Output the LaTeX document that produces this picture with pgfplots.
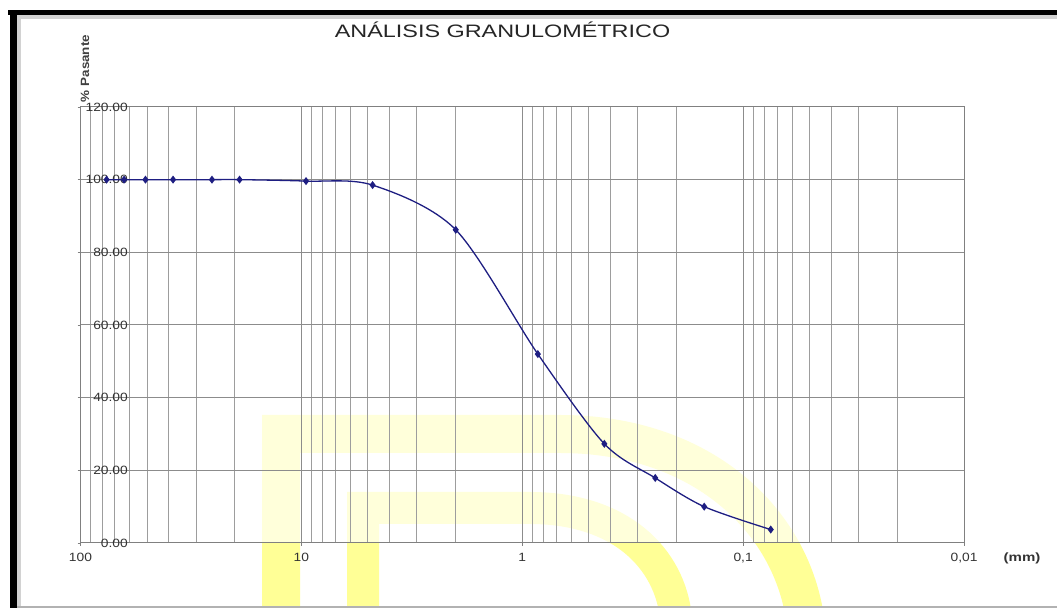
\documentclass[border=0pt]{standalone}
\usepackage{fontspec}
\setmainfont{Liberation Sans}
\usepackage{graphicx}
\usepackage{pgfplots}
\pgfplotsset{compat=1.18}
\definecolor{navy}{RGB}{30,30,130}
\definecolor{wm}{RGB}{255,255,150}
\definecolor{gridc}{RGB}{140,140,140}
\newcommand\st[1]{\scalebox{1.15}[1]{#1}}
\begin{document}
\begin{tikzpicture}[x=1bp,y=1bp]
\path[use as bounding box] (0,0) rectangle (1057,608);
\fill[white] (0,0) rectangle (1057,608);
% watermark (decoration)
\draw[wm, line width=38bp] (281,-10) -- (281,174) -- (560,174) .. controls (700,174) and (790,90) .. (805,-10);
\draw[wm, line width=32bp] (363,-10) -- (363,100) -- (530,100) .. controls (620,100) and (670,50) .. (676,-10);
\begin{axis}[
  at={(80.5bp,65bp)}, anchor=south west,
  scale only axis, width=883.5bp, height=436bp,
  xmode=log, x dir=reverse,
  xmin=0.01, xmax=100, ymin=0, ymax=120,
  xtick={100,10,1,0.1,0.01},
  xticklabels={\st{100},\st{10},\st{1},\st{0,1},\st{0,01}},
  minor xtick={20,30,40,50,60,70,80,90,2,3,4,5,6,7,8,9,0.2,0.3,0.4,0.5,0.6,0.7,0.8,0.9,0.02,0.03,0.04,0.05,0.06,0.07,0.08,0.09},
  ytick={0,20,40,60,80,100,120},
  yticklabels={\st{0.00},\st{20.00},\st{40.00},\st{60.00},\st{80.00},\st{100.00},\st{120.00}},
  xmajorgrids=true, xminorgrids=true, ymajorgrids=true,
  major grid style={gridc, line width=1bp},
  minor grid style={gridc!85, line width=0.8bp},
  axis line style={gray, line width=1bp},
  tick align=outside, xtick pos=left, ytick pos=left,
  major tick length=3bp, minor tick length=0pt,
  tick style={gray, line width=0.8bp},
  ticklabel style={font=\fontsize{12bp}{14bp}\selectfont, text=black!80},
  xticklabel style={anchor=north, inner sep=0pt, yshift=-7bp},
  yticklabel style={anchor=east, inner sep=0pt, xshift=50.5bp},
  axis background/.style={fill=white, fill opacity=0.65},
]
\addplot[navy, line width=1.3bp, smooth, tension=0.5, mark=diamond*, mark size=3bp, mark options={fill=navy, solid}] coordinates {
 (76.2,100) (63.5,100) (50.8,100) (38.1,100) (25.4,100) (19.05,100)
 (9.525,99.6) (4.76,98.5) (2.00,86.2) (0.85,52.0) (0.425,27.3)
 (0.25,17.9) (0.15,10.0) (0.075,3.7)
};
\end{axis}
% titles and labels
\node[anchor=base, font=\fontsize{18bp}{20bp}\selectfont, text=black!85] at (502.5,570.5) {\scalebox{1.3}[1]{ANÁLISIS GRANULOMÉTRICO}};
\node[rotate=90, font=\bfseries\fontsize{12bp}{14bp}\selectfont, text=black!75] at (85,539.5) {\scalebox{1.12}[1]{\% Pasante}};
\node[font=\bfseries\fontsize{12bp}{14bp}\selectfont, text=black!80] at (1022,50) {\scalebox{1.25}[1]{(mm)}};
% frame
\fill[gray!35] (17,0) rectangle (21,593);
\fill[gray!35] (17,589) rectangle (1057,593);
\fill[black] (10,0) rectangle (17,598);
\fill[black] (8,593) rectangle (1057,598);
\fill[gray!60] (17,0) rectangle (1057,1.5);
\end{tikzpicture}
\end{document}
